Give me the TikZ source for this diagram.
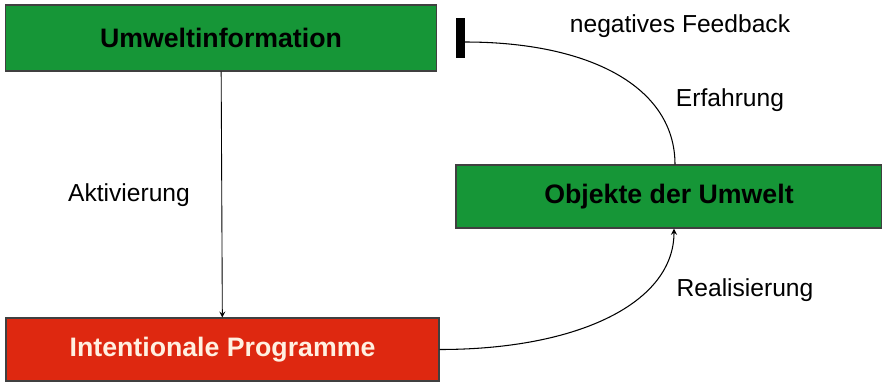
\documentclass[tikz,border=0pt]{standalone}
\usepackage{fontspec}
\setmainfont{Liberation Sans}
\usetikzlibrary{arrows}
\definecolor{boxgreen}{RGB}{22,150,55}
\definecolor{boxred}{RGB}{222,40,16}
\definecolor{boxtext}{RGB}{255,240,225}
\begin{document}
\begin{tikzpicture}[
    box/.style={draw=black!75, line width=0.6pt, minimum height=1.28cm, font=\fontsize{15.2}{18}\selectfont\bfseries},
    lbl/.style={font=\fontsize{14}{17}\selectfont}
  ]
    \useasboundingbox (0,0) rectangle (17.64,7.64);
    % boxes
    \node[box, fill=boxgreen, minimum width=8.62cm, minimum height=1.32cm] (umwelt) at (4.42,6.88) {Umweltinformation};
    \node[box, fill=boxred, text=boxtext, minimum width=8.66cm, minimum height=1.26cm] (prog) at (4.45,0.65) {Intentionale Programme};
    \node[box, fill=boxgreen, minimum width=8.52cm, minimum height=1.26cm] (objekt) at (13.38,3.71) {Objekte der Umwelt};

    \draw [->, >=stealth, line width=0.5pt] (umwelt) -- (prog);
    \node[lbl] (akt) at (2.58,3.74) {Aktivierung};

    % feedback
    \coordinate (bartop) at (9.21,7.28);
    \coordinate (barbot) at (9.21,6.48);
    \draw [line width=5pt] (bartop) -- (barbot);
    \draw [line width=0.6pt] (9.3,6.8) .. controls (11.8,6.8) and (13.5,5.9) .. (objekt.north -| 13.5,0);
    \node[lbl] (feed) at (13.6,7.12) {negatives Feedback};
    \node[lbl] (erf) at (14.6,5.64) {Erfahrung};

    % realisierung
    \draw [->, >=stealth, line width=0.6pt] (prog.east) .. controls (11.6,0.65) and (13.48,1.6) .. (objekt.south -| 13.48,0);
    \node[lbl] (real) at (14.9,1.84) {Realisierung};
\end{tikzpicture}
\end{document}
